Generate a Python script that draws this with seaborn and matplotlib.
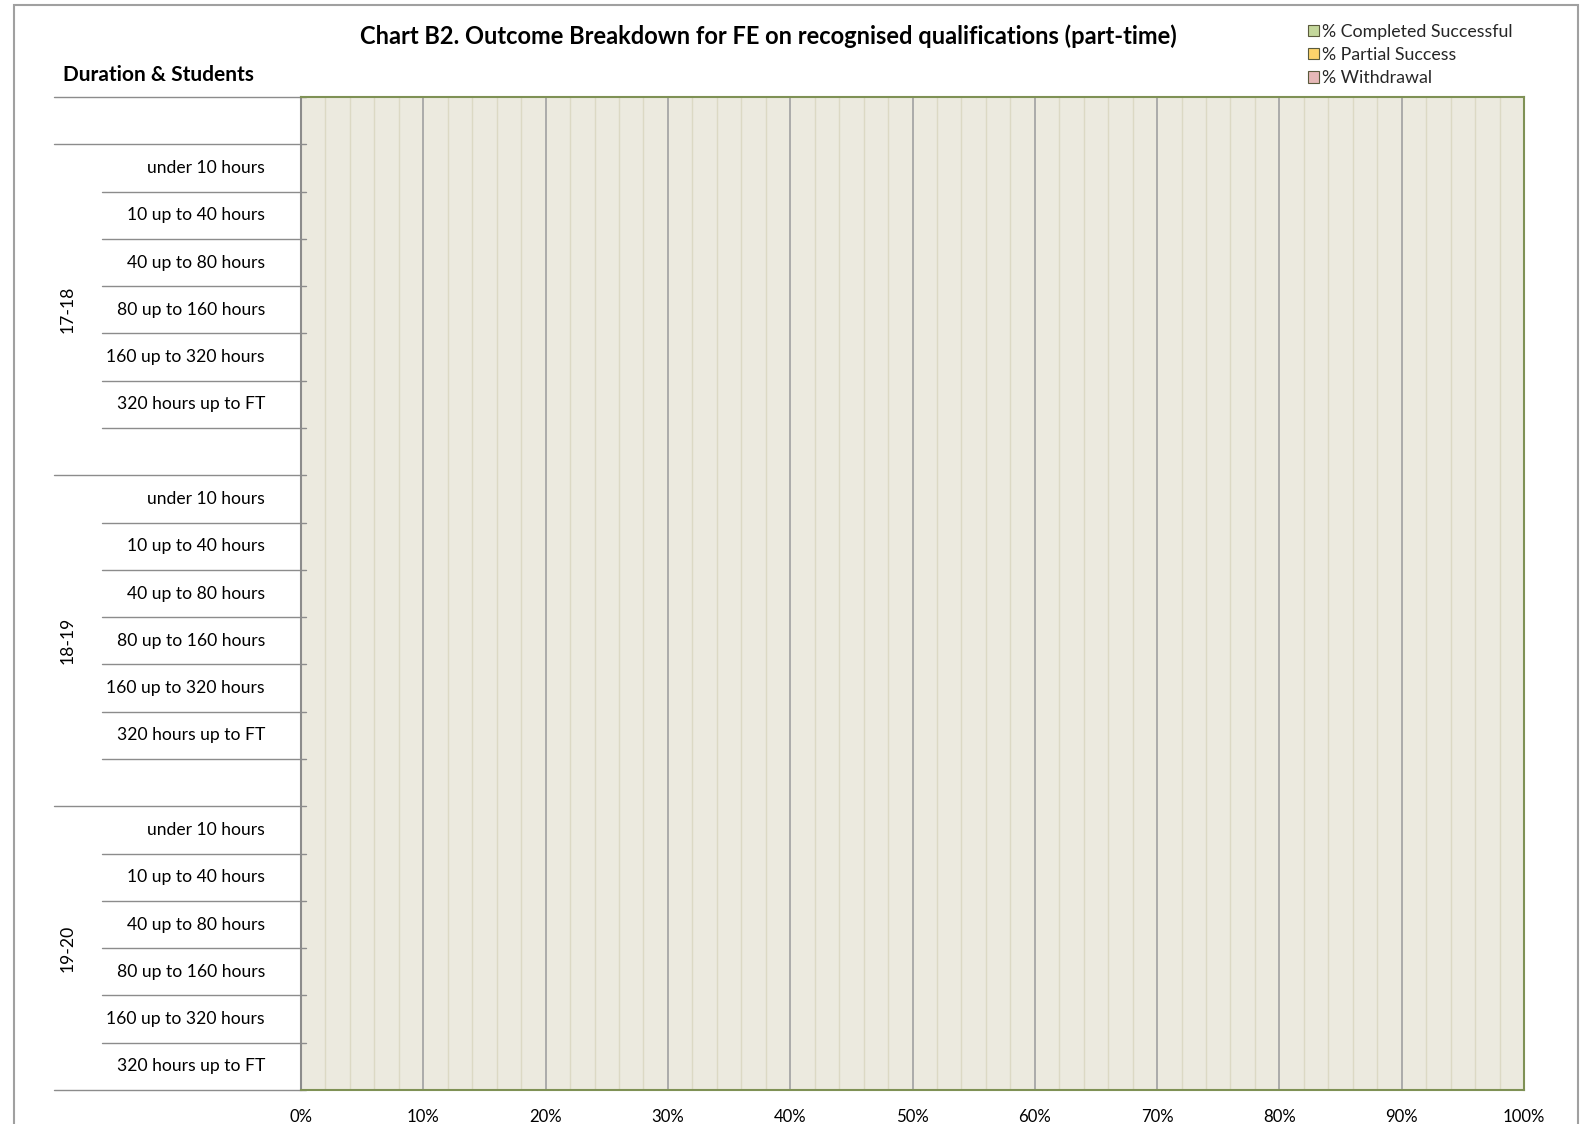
import numpy as np
import pandas as pd
import seaborn as sns
import matplotlib
matplotlib.use("Agg")
import matplotlib.pyplot as plt
from matplotlib.patches import Patch, Rectangle
from matplotlib.lines import Line2D
from matplotlib.transforms import blended_transform_factory

# ---------------- data ----------------
groups = ["17-18", "18-19", "19-20"]
durations = ["under 10 hours", "10 up to 40 hours", "40 up to 80 hours",
             "80 up to 160 hours", "160 up to 320 hours", "320 hours up to FT"]
series = ["% Completed Successful", "% Partial Success", "% Withdrawal"]
series_colors = ["#C4D79B", "#FCD36B", "#E6B8B7"]
# the reference chart shows no bars: every value is empty (zero)
completed_vals = [0.0] * 18
partial_vals = [0.0] * 18
withdrawal_vals = [0.0] * 18
x_ticks = [i / 10 for i in range(11)]
x_ticklabels = [f"{i*10}%" for i in range(11)]

sns.set_theme(style="white")
plt.rcParams["font.family"] = ["Lato", "DejaVu Sans"]

W, H = 1583, 1124
fig = plt.figure(figsize=(W / 100, H / 100), dpi=100)
fx = lambda px: px / W
fy = lambda py: 1 - py / H

ax = fig.add_axes([fx(301), fy(1090), fx(1524) - fx(301), fy(97) - fy(1090)])

# row order: blank row at top, then each group's durations followed by a blank row
order = ["blank_top"]
row_keys = []
for gi, g in enumerate(groups):
    for d in durations:
        k = f"{g}|{d}"
        order.append(k)
        row_keys.append(k)
    if gi < len(groups) - 1:
        order.append(f"blank_{g}")

df = pd.DataFrame({"row": row_keys,
                   series[0]: completed_vals,
                   series[1]: partial_vals,
                   series[2]: withdrawal_vals})

left = np.zeros(len(df))
for s, c in zip(series, series_colors):
    sns.barplot(data=df, y="row", x=s, order=order, orient="h", color=c,
                width=0.6, linewidth=0, errorbar=None, left=left, ax=ax)
    left = left + df[s].to_numpy()

ax.set_xlim(0, 1)
ax.set_ylim(len(order) - 0.5, -0.5)
ax.set_facecolor("#ECEADF")
ax.set_xlabel("")
ax.set_ylabel("")
ax.set_yticks([])
ax.set_xticks(x_ticks)
ax.set_xticklabels(x_ticklabels)
ax.set_xticks(np.arange(0, 1.0001, 0.02), minor=True)
ax.tick_params(axis="x", which="both", length=0, pad=13.5, labelsize=12.1, colors="#000000")
ax.grid(axis="x", which="major", color="#A6A6A6", linewidth=1.3)
ax.grid(axis="x", which="minor", color="#DCD9C4", linewidth=1.0)
ax.set_axisbelow(True)
for side in ["top", "right", "bottom"]:
    ax.spines[side].set_color("#7F9155")
    ax.spines[side].set_linewidth(1.5)
ax.spines["left"].set_color("#8C8C8C")
ax.spines["left"].set_linewidth(1.5)

# category separators and labels
tr = blended_transform_factory(fig.transFigure, ax.transData)
long_bounds = {0, 1, 8, 15, len(order)}
for b in range(len(order) + 1):
    y = b - 0.5
    x0 = fx(54) if b in long_bounds else fx(102)
    ax.add_line(Line2D([x0, fx(306)], [y, y], transform=tr, color="#8C8C8C",
                       linewidth=1.0, clip_on=False))

for i, k in enumerate(order):
    if "|" in k:
        d = k.split("|")[1]
        ax.text(fx(265), i, d, transform=tr, ha="right", va="center",
                fontsize=12.6, color="#000000")

group_spans = [(1, 7), (8, 14), (15, 20)]
for g, (a, b) in zip(groups, group_spans):
    ax.text(fx(68), (a - 0.5 + b + 0.5) / 2, g, transform=tr, rotation=90,
            ha="center", va="center", fontsize=12.6, color="#000000")

# titles
fig.text(fx(768), fy(36), "Chart B2. Outcome Breakdown for FE on recognised qualifications (part-time)",
         ha="center", va="center", fontsize=17, fontweight="bold", color="#000000")
fig.text(fx(63), fy(75), "Duration & Students", ha="left", va="center",
         fontsize=15, fontweight="bold", color="#000000")

# legend
handles = [Patch(facecolor=c, edgecolor="#5A5A3C", linewidth=0.8) for c in series_colors]
fig.legend(handles, series, loc="upper left", bbox_to_anchor=(fx(1308), fy(24)),
           frameon=False, fontsize=12.75, handlelength=0.6, handleheight=0.6,
           handletextpad=0.2, labelspacing=0.4, borderpad=0, borderaxespad=0)

# outer chart frame
fig.add_artist(Rectangle((fx(14), fy(1140)), fx(1578) - fx(14), fy(5) - fy(1140),
                         transform=fig.transFigure, fill=False, edgecolor="#A0A0A0",
                         linewidth=1.5, clip_on=False))

fig.savefig("out.png", dpi=100, facecolor="white")
